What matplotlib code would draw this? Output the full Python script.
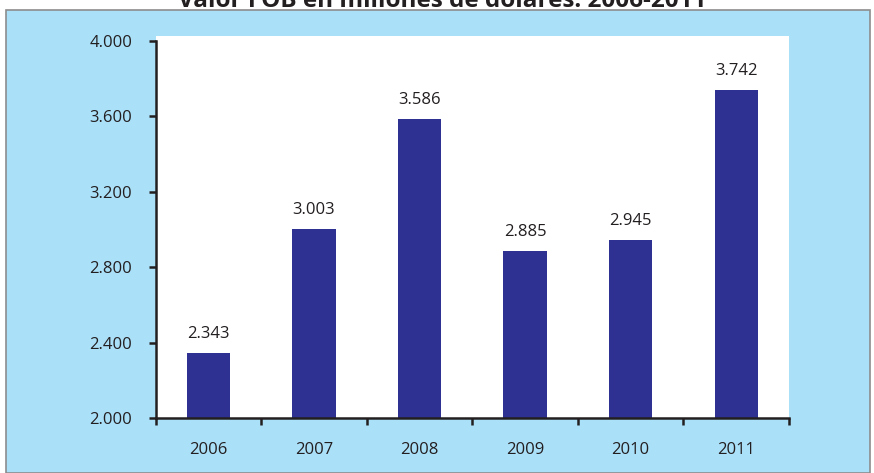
import matplotlib.pyplot as plt
from matplotlib.patches import Rectangle

plt.rcParams['font.family'] = ['Open Sans', 'DejaVu Sans']

# datos
anios = ['2006', '2007', '2008', '2009', '2010', '2011']
valores = [2343, 3003, 3586, 2885, 2945, 3742]
yticks = [2000, 2400, 2800, 3200, 3600, 4000]

def miles(v):
    return '{:,.0f}'.format(v).replace(',', '.')

fig = plt.figure(figsize=(8.74, 4.73), dpi=100)
fig.patch.set_facecolor('white')

# panel azul de fondo
fig.patches.append(Rectangle((6 / 874, 0), 864 / 874, 1 - 10 / 473,
                             transform=fig.transFigure, facecolor='#ABE0F9',
                             edgecolor='#8C8C8C', linewidth=1.2, zorder=-1))

fig.text(442 / 874, 1 - 7 / 473, 'Valor FOB en millones de dólares. 2006-2011',
         ha='center', va='baseline', fontsize=17.5, fontweight='bold', color='#231F20')

ax = fig.add_axes([155.7 / 874, 1 - 418 / 473, 633.3 / 874, 382 / 473])
ax.set_zorder(1)
ax.set_facecolor('white')

x = range(len(anios))
ax.bar(x, valores, width=0.41, color='#2E3192', zorder=2)
for xi, v in zip(x, valores):
    ax.annotate(miles(v), (xi, v), xytext=(0, 8), textcoords='offset points',
                ha='center', va='bottom', fontsize=12, color='#231F20')

ax.set_xlim(-0.5, len(anios) - 0.5)
ax.set_ylim(2000, 2000 + 2000 * 382 / 377)
ax.set_yticks(yticks)
ax.set_yticklabels([miles(v) for v in yticks])
ax.set_xticks(list(x))
ax.set_xticklabels(anios)
ax.set_xticks([i - 0.5 for i in range(len(anios) + 1)], minor=True)

for s in ['top', 'right']:
    ax.spines[s].set_visible(False)
for s in ['left', 'bottom']:
    ax.spines[s].set_linewidth(1.8)
    ax.spines[s].set_color('#231F20')
ax.spines['left'].set_bounds(2000, 4000)

ax.tick_params(axis='y', length=5, width=1.8, color='#231F20', pad=12,
               labelsize=12, labelcolor='#231F20')
ax.tick_params(axis='x', which='major', length=0, pad=17,
               labelsize=12, labelcolor='#231F20')
ax.tick_params(axis='x', which='minor', length=5, width=1.8, color='#231F20')

plt.savefig('out.png', dpi=100)
plt.close(fig)
